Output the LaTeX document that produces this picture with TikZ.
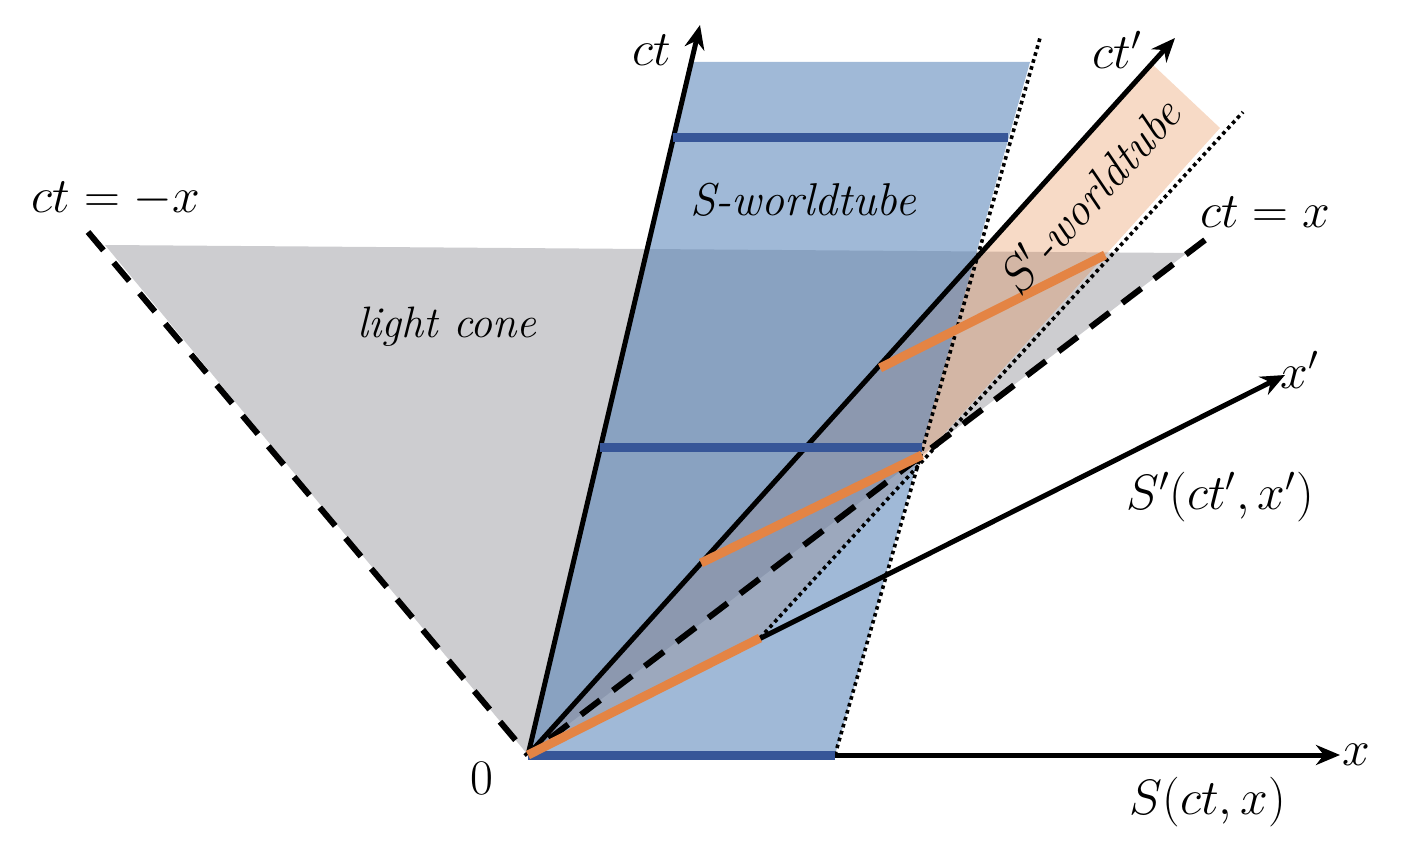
\documentclass[tikz,border=0pt]{standalone}
\usetikzlibrary{arrows.meta}
\definecolor{conegray}{RGB}{205,205,208}
\definecolor{tubeblue}{RGB}{85,130,183}
\definecolor{tubeorange}{RGB}{227,131,66}
\definecolor{simblue}{RGB}{55,86,152}
\definecolor{simorange}{RGB}{228,132,68}
\tikzset{
  axis/.style={line width=2.5pt,-{Stealth[length=12pt,width=10pt]}},
  lightray/.style={line width=3pt,dash pattern=on 12pt off 8pt},
  tubeedge/.style={line width=1.8pt,dash pattern=on 1.8pt off 1.8pt},
  simS/.style={line width=4.5pt,simblue},
  simSp/.style={line width=4.5pt,simorange},
  lbl/.style={font=\fontsize{23}{28}\selectfont,inner sep=0pt},
  tubelbl/.style={font=\fontsize{23}{28}\selectfont\itshape,inner sep=0pt}
}
\begin{document}
\begin{tikzpicture}[x=0.5pt,y=-0.5pt]
	\useasboundingbox (0,0) rectangle (1404,855);
	
	\coordinate (O) at (528,755);
	\coordinate (ctEnd) at (700,25);
	\coordinate (ctpEnd) at (1175,38);
	\coordinate (xpEnd) at (1285,375);
	\coordinate (xEnd) at (1340,755);
	\coordinate (rayL) at (88,232);
	\coordinate (rayR) at (1205,240);
	\coordinate (coneL) at (105,245);
	\coordinate (coneR) at (1187,253);
	
	\coordinate (SB) at (835,755);
	\coordinate (STR) at (1030,62);
	\coordinate (STL) at (691,62);
	\coordinate (SDot) at (1040,38);
	
	\coordinate (SpA) at (760,638);
	\coordinate (SpC) at (1220,128);
	\coordinate (SpD) at (1152,64);
	\coordinate (SpDot) at (1243,112);
	
	\fill[conegray] (O) -- (coneL) -- (coneR) -- cycle;
	\fill[tubeorange,opacity=0.3] (O) -- (SpA) -- (SpC) -- (SpD) -- cycle;
	\fill[tubeblue,opacity=0.56] (O) -- (SB) -- (STR) -- (STL) -- cycle;
	
	\draw[lightray] (rayL) -- (O);
	\draw[lightray] (rayR) -- (O);
	\draw[tubeedge] (SB) -- (SDot);
	\draw[tubeedge] (SpA) -- (SpDot);
	
	\draw[axis] (O) -- (ctEnd);
	\draw[axis] (O) -- (ctpEnd);
	\draw[axis] (O) -- (xpEnd);
	\draw[axis] (O) -- (xEnd);
	
	\draw[simS] (O) -- (SB);
	\draw[simS] (600,448) -- (922,448);
	\draw[simS] (673,138) -- (1008,138);
	
	\draw[simSp] (O) -- (SpA);
	\draw[simSp] (701,563) -- (922,455);
	\draw[simSp] (880,368) -- (1105,255);
	
	\node[lbl] (ctLab) at (652,50) {$ct$};
	\node[lbl] (ctpLab) at (1117,50) {$ct'$};
	\node[lbl] (rayLLab) at (116,199) {$ct=-x$};
	\node[lbl] (rayRLab) at (1265,212) {$ct=x$};
	\node[lbl] (xpLab) at (1300,370) {$x'$};
	\node[lbl] (SpLab) at (1220,497) {$S'(ct',x')$};
	\node[lbl] (xLab) at (1356,755) {$x$};
	\node[lbl] (SLab) at (1208,802) {$S(ct,x)$};
	\node[lbl] (OLab) at (482,778) {$0$};
	\node[tubelbl,font=\fontsize{22}{26}\selectfont\itshape] (coneLab) at (447,327) {light cone};
	\node[tubelbl] (STubeLab) at (803,200) {S-worldtube};
	\node[tubelbl,rotate=48] (SpTubeLab) at (1088,195) {$S'$-worldtube};
\end{tikzpicture}
\end{document}
